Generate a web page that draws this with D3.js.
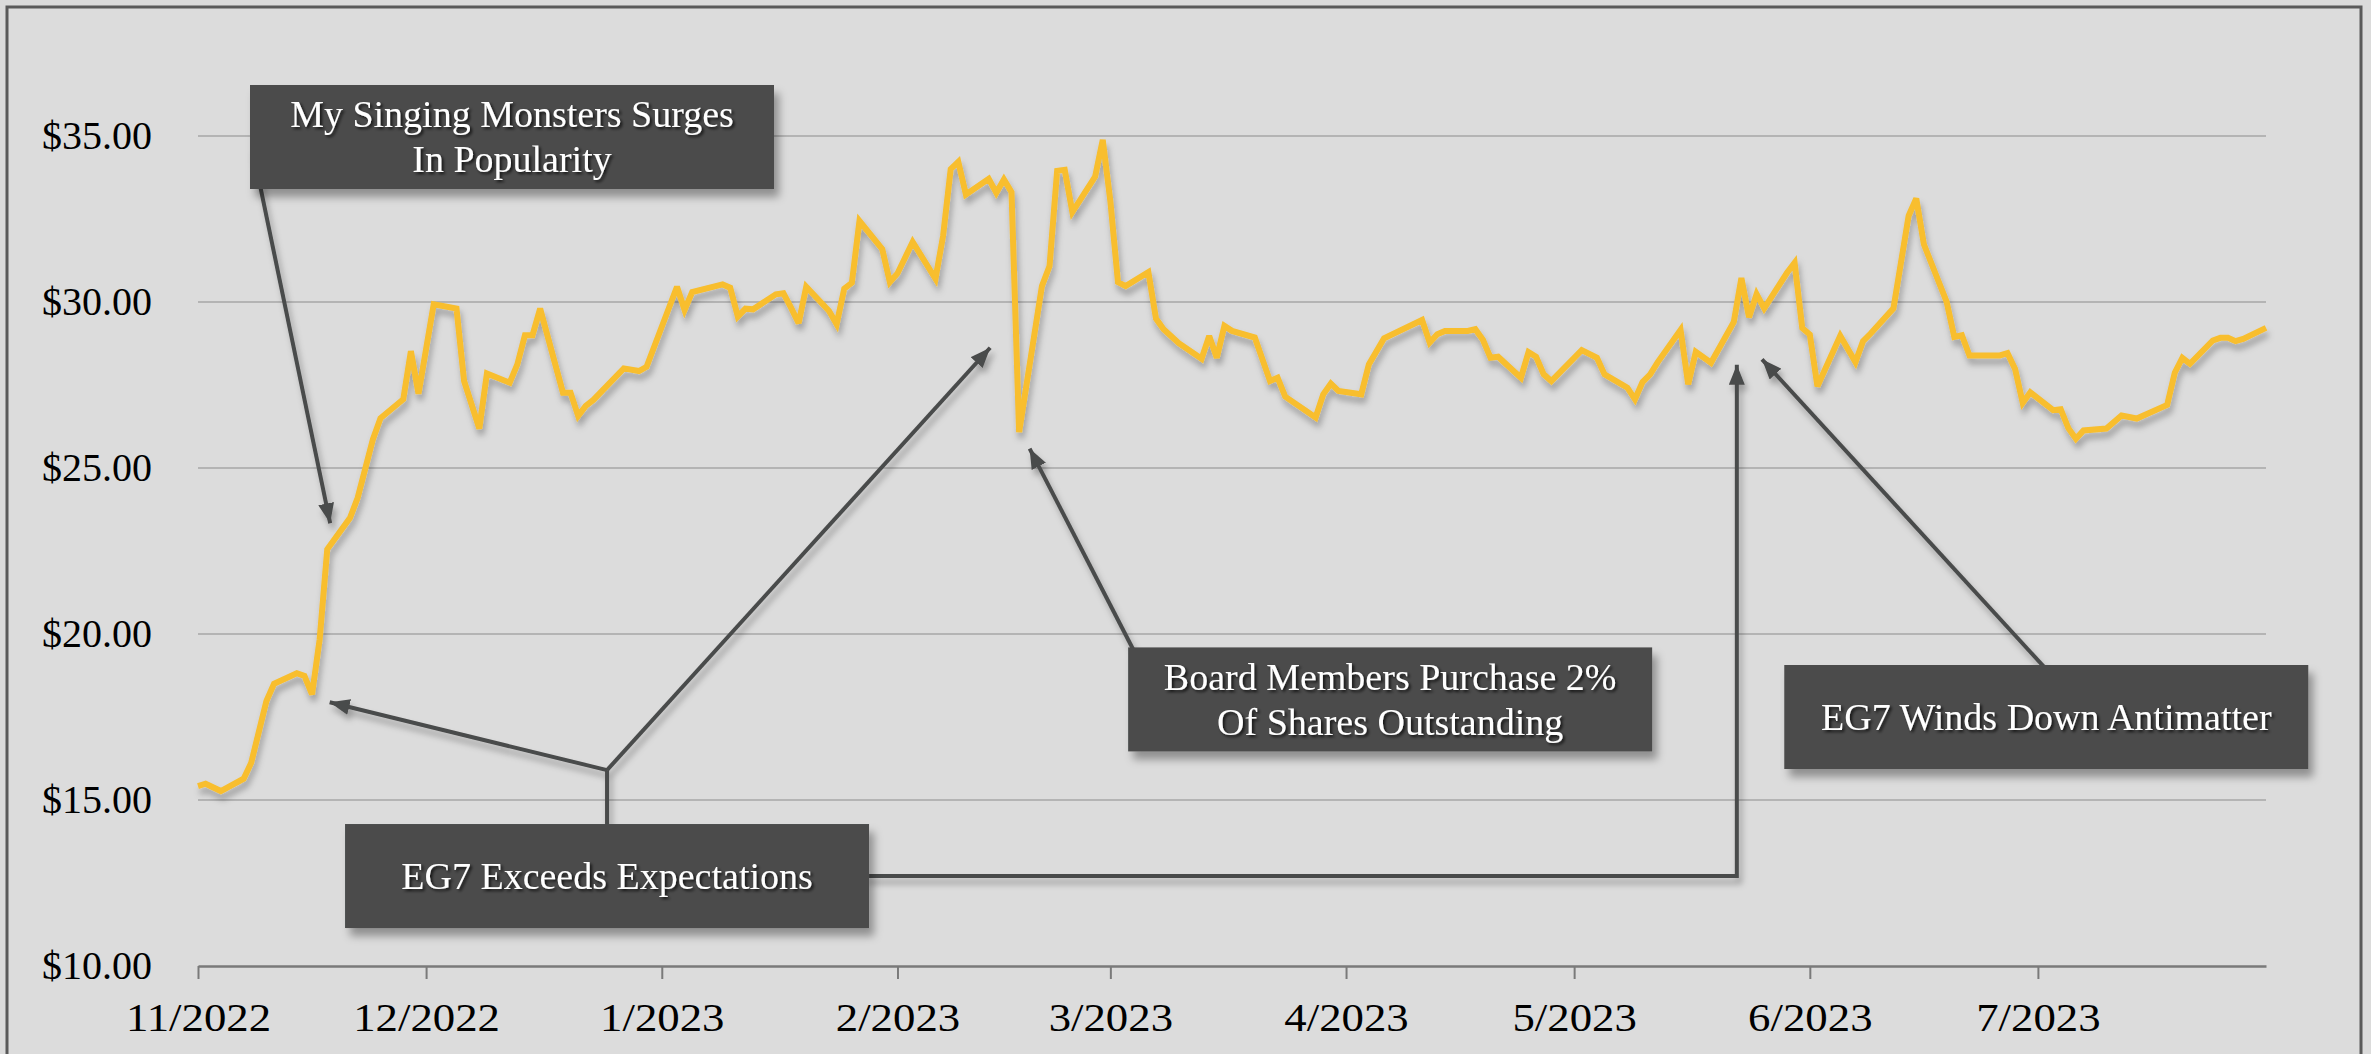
<!DOCTYPE html>
<html><head><meta charset="utf-8">
<script src="https://cdn.jsdelivr.net/npm/d3@7"></script>
<style>
html,body{margin:0;padding:0;background:#dbdbdb;overflow:hidden;}
svg{display:block;}
</style></head><body>
<svg id="chart" width="2371" height="1054"></svg>
<script>
// ---------- data ----------
const dates = [
"2022-11-01","2022-11-02","2022-11-04","2022-11-07","2022-11-08","2022-11-10","2022-11-11","2022-11-14","2022-11-15","2022-11-16",
"2022-11-17","2022-11-18","2022-11-21","2022-11-22","2022-11-24","2022-11-25","2022-11-28","2022-11-29","2022-11-30","2022-12-02",
"2022-12-05","2022-12-06","2022-12-08","2022-12-09","2022-12-12","2022-12-13","2022-12-14","2022-12-15","2022-12-16","2022-12-19",
"2022-12-20","2022-12-21","2022-12-22","2022-12-23","2022-12-27","2022-12-29","2022-12-30","2023-01-03","2023-01-04","2023-01-05",
"2023-01-09","2023-01-10","2023-01-11","2023-01-12","2023-01-13","2023-01-16","2023-01-17","2023-01-18","2023-01-19","2023-01-20",
"2023-01-23","2023-01-24","2023-01-25","2023-01-26","2023-01-27","2023-01-30","2023-01-31","2023-02-01","2023-02-03","2023-02-06",
"2023-02-07","2023-02-08","2023-02-09","2023-02-10","2023-02-13","2023-02-14","2023-02-15","2023-02-16","2023-02-17","2023-02-20",
"2023-02-21","2023-02-22","2023-02-23","2023-02-24","2023-02-27","2023-02-28","2023-03-01","2023-03-02","2023-03-03","2023-03-06",
"2023-03-07","2023-03-08","2023-03-10","2023-03-13","2023-03-14","2023-03-15","2023-03-16","2023-03-17","2023-03-20","2023-03-22",
"2023-03-23","2023-03-24","2023-03-28","2023-03-29","2023-03-30","2023-03-31","2023-04-03","2023-04-04","2023-04-06","2023-04-11",
"2023-04-12","2023-04-13","2023-04-14","2023-04-17","2023-04-18","2023-04-19","2023-04-20","2023-04-21","2023-04-24","2023-04-25",
"2023-04-26","2023-04-27","2023-04-28","2023-05-02","2023-05-04","2023-05-05","2023-05-08","2023-05-09","2023-05-10","2023-05-11",
"2023-05-12","2023-05-15","2023-05-16","2023-05-17","2023-05-19","2023-05-22","2023-05-23","2023-05-24","2023-05-25","2023-05-26",
"2023-05-29","2023-05-30","2023-05-31","2023-06-01","2023-06-02","2023-06-05","2023-06-07","2023-06-08","2023-06-09","2023-06-12",
"2023-06-14","2023-06-15","2023-06-16","2023-06-19","2023-06-20","2023-06-21","2023-06-22","2023-06-26","2023-06-27","2023-06-28",
"2023-06-29","2023-06-30","2023-07-03","2023-07-04","2023-07-05","2023-07-06","2023-07-07","2023-07-10","2023-07-12","2023-07-14",
"2023-07-18","2023-07-19","2023-07-20","2023-07-21","2023-07-24","2023-07-25","2023-07-26","2023-07-27","2023-07-28","2023-07-31"
];
const prices = [
15.42,15.49,15.27,15.64,16.12,17.98,18.50,18.82,18.74,18.18,
19.84,22.55,23.50,24.10,25.86,26.50,27.07,28.52,27.24,29.93,
29.80,27.62,26.19,27.85,27.57,28.12,29.00,29.00,29.80,27.27,
27.27,26.57,26.87,27.05,28.00,27.92,28.05,30.46,29.76,30.30,
30.53,30.43,29.56,29.80,29.78,30.23,30.26,29.83,29.36,30.46,
29.73,29.33,30.40,30.58,32.44,31.59,30.60,30.86,31.81,30.70,
31.99,34.00,34.22,33.24,33.71,33.29,33.69,33.31,26.08,30.48,
31.08,33.95,33.98,32.71,33.78,34.88,33.04,30.60,30.48,30.90,
29.50,29.18,28.76,28.29,28.98,28.32,29.28,29.13,28.93,27.62,
27.72,27.15,26.52,27.22,27.54,27.32,27.22,28.12,28.91,29.46,
28.78,29.03,29.13,29.13,29.18,28.86,28.32,28.35,27.72,28.49,
28.35,27.82,27.62,28.55,28.32,27.82,27.42,27.07,27.59,27.82,
28.19,29.16,27.52,28.50,28.17,29.40,30.72,29.54,30.24,29.81,
30.88,31.18,29.22,29.02,27.46,28.98,28.19,28.82,29.05,29.81,
32.60,33.12,31.74,30.00,28.95,29.00,28.39,28.39,28.46,27.98,
26.96,27.28,26.74,26.77,26.20,25.88,26.13,26.19,26.58,26.49,
26.90,27.87,28.32,28.14,28.84,28.92,28.92,28.82,28.89,29.22
];
const xDomain = ["2022-11-01","2023-07-31"];
const xTickDates = ["2022-11-01","2022-12-01","2023-01-01","2023-02-01","2023-03-01","2023-04-01","2023-05-01","2023-06-01","2023-07-01"];
const yTickValues = [10,15,20,25,30,35];

// annotations
const annotationLabels = [
  ["My Singing Monsters Surges","In Popularity"],
  ["EG7 Exceeds Expectations"],
  ["Board Members Purchase 2%","Of Shares Outstanding"],
  ["EG7 Winds Down Antimatter"]
];
const annotationBoxDates  = ["2022-12-12T07:12","2022-12-24T19:12","2023-04-06T19:12","2023-07-02T02:24"];
const annotationBoxValues = [34.97, 12.71, 18.03, 17.5];
// arrow targets: 0 surge, 1-3 EG7 exceeds (Nov, Feb, May), 4 board, 5 winds down
const arrowTargetDates  = ["2022-11-18T14:24","2022-11-17T07:12","2023-02-13T21:36","2023-05-22T09:36","2023-02-17T21:36","2023-05-25T00:00"];
const arrowTargetValues = [23.1, 18.0, 28.8, 28.35, 25.8, 28.45];
const elbowJunctionValue = 15.9;

// ---------- setup ----------
const W = 2371, H = 1054;
const margin = {left:198, right:W-2266, top:136, bottom:H-966};
const parseDay = d3.timeParse("%Y-%m-%d");
const parseTime = d3.timeParse("%Y-%m-%dT%H:%M");
const series = dates.map((d,i)=>({date:parseDay(d), value:prices[i]}));

const x = d3.scaleTime().domain(xDomain.map(parseDay)).range([margin.left, W - margin.right]);
const y = d3.scaleLinear().domain([10,35]).range([H - margin.bottom, margin.top]);

const svg = d3.select("#chart");
const defs = svg.append("defs");

function shadow(id, dx, dy, sd, op){
  const f = defs.append("filter").attr("id",id)
    .attr("x","-20%").attr("y","-20%").attr("width","140%").attr("height","160%");
  f.append("feDropShadow").attr("dx",dx).attr("dy",dy).attr("stdDeviation",sd)
    .attr("flood-color","#000").attr("flood-opacity",op);
}
shadow("lineShadow", 2, 6, 3, 0.28);
shadow("arrowShadow", 3, 6, 3, 0.3);
shadow("boxShadow", 5, 8, 4, 0.35);
shadow("textShadow", 2, 2, 1.5, 0.75);

defs.append("marker").attr("id","arrowHead")
  .attr("viewBox","0 0 20 16").attr("refX",20).attr("refY",8)
  .attr("markerWidth",20).attr("markerHeight",16)
  .attr("markerUnits","userSpaceOnUse").attr("orient","auto")
  .append("path").attr("d","M0,0 L20,8 L0,16 Z").attr("fill","#4a4b4b");

// background + frame
svg.append("rect").attr("width",W).attr("height",H).attr("fill","#dbdbdb");
svg.append("rect").attr("x",7).attr("y",7).attr("width",2354).attr("height",1100)
  .attr("fill","#dcdcdc").attr("stroke","#5a5a5a").attr("stroke-width",3);

// gridlines
svg.append("g").selectAll("line").data(yTickValues.filter(v=>v>10)).join("line")
  .attr("x1",x.range()[0]).attr("x2",x.range()[1])
  .attr("y1",d=>y(d)).attr("y2",d=>y(d))
  .attr("stroke","#b4b4b4").attr("stroke-width",2);

// y axis labels
const yAxis = svg.append("g").attr("transform",`translate(${margin.left},0)`)
  .call(d3.axisLeft(y).tickValues(yTickValues).tickFormat(d3.format("$.2f")).tickSize(0).tickPadding(46));
yAxis.select(".domain").remove();
yAxis.selectAll("text").attr("font-family","'Liberation Serif', serif").attr("font-size",40).attr("fill","#000").attr("dy","0.32em");

// x axis
const xAxis = svg.append("g").attr("transform",`translate(0,${y(10)})`)
  .call(d3.axisBottom(x).tickValues(xTickDates.map(parseDay)).tickFormat(d3.timeFormat("%-m/%Y"))
        .tickSize(13).tickSizeOuter(0).tickPadding(24));
xAxis.select(".domain").attr("stroke","#7a7a7a").attr("stroke-width",2.5);
xAxis.selectAll(".tick line").attr("stroke","#7a7a7a").attr("stroke-width",2);
xAxis.selectAll("text").attr("font-family","'Liberation Serif', serif").attr("font-size",40).attr("fill","#000")
  .attr("transform","scale(1.12,1)");

// line
const line = d3.line().x(d=>x(d.date)).y(d=>y(d.value));
svg.append("path").datum(series).attr("d",line)
  .attr("fill","none").attr("stroke","#f8be2e").attr("stroke-width",6)
  .attr("stroke-linejoin","miter").attr("stroke-miterlimit",3)
  .attr("filter","url(#lineShadow)");

// annotations
const BW = 524, BH = 104;
const boxes = annotationLabels.map((lines,i)=>{
  const cx = x(parseTime(annotationBoxDates[i])), cy = y(annotationBoxValues[i]);
  return {lines, cx, cy, left:cx-BW/2, right:cx+BW/2, top:cy-BH/2, bottom:cy+BH/2};
});
const tips = arrowTargetDates.map((d,i)=>[x(parseTime(d)), y(arrowTargetValues[i])]);

function along(p0, p1, amt){
  const dx = p1[0]-p0[0], dy = p1[1]-p0[1], L = Math.hypot(dx,dy);
  return [p0[0]+dx/L*amt, p0[1]+dy/L*amt];
}
const connectors = [];
const junction = [boxes[1].cx, y(elbowJunctionValue)];
{
  const s = [boxes[0].left, boxes[0].cy];
  connectors.push({pts:[along(s, tips[0], 12), tips[0]], arrow:true});
}
connectors.push({pts:[[boxes[1].cx, boxes[1].top + 4], junction], arrow:false});
connectors.push({pts:[junction, tips[1]], arrow:true});
connectors.push({pts:[junction, tips[2]], arrow:true});
connectors.push({pts:[[boxes[1].right - 4, boxes[1].cy], [tips[3][0], boxes[1].cy], tips[3]], arrow:true});
{
  const s = [boxes[2].left+4, boxes[2].top];
  connectors.push({pts:[along(tips[4], s, Math.hypot(s[0]-tips[4][0], s[1]-tips[4][1]) + 6), tips[4]], arrow:true});
}
{
  const s = [boxes[3].cx-4, boxes[3].top];
  connectors.push({pts:[along(tips[5], s, Math.hypot(s[0]-tips[5][0], s[1]-tips[5][1]) + 6), tips[5]], arrow:true});
}

const conG = svg.append("g").attr("filter","url(#arrowShadow)");
connectors.forEach(c=>{
  const pts = c.pts.slice();
  if(c.arrow){
    const n = pts.length;
    pts[n-1] = along(pts[n-1], pts[n-2], 8);
  }
  conG.append("path").attr("d", d3.line()(pts))
    .attr("fill","none").attr("stroke","#4a4b4b").attr("stroke-width",4)
    .attr("stroke-linejoin","miter")
    .attr("marker-end", c.arrow ? "url(#arrowHead)" : null);
});

const boxG = svg.append("g");
boxes.forEach(b=>{
  boxG.append("rect").attr("x",b.left).attr("y",b.top).attr("width",BW).attr("height",BH)
    .attr("fill","#4b4c4c").attr("filter","url(#boxShadow)");
  const t = boxG.append("text").attr("text-anchor","middle")
    .attr("font-family","'Liberation Serif', serif").attr("font-size",38).attr("fill","#ffffff")
    .attr("filter","url(#textShadow)");
  const lh = 45, n = b.lines.length;
  b.lines.forEach((s,k)=>{
    t.append("tspan").attr("x",b.cx).attr("y", b.cy + (k-(n-1)/2)*lh + 13).text(s);
  });
});
</script>
</body></html>
